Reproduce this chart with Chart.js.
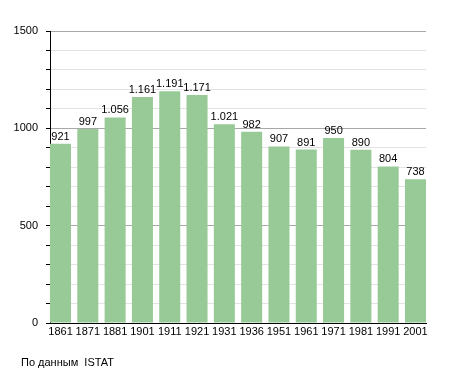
<!DOCTYPE html>
<html>
<head>
<meta charset="utf-8">
<script src="https://cdn.jsdelivr.net/npm/chart.js@4/dist/chart.umd.min.js"></script>
<style>
  html, body { margin: 0; padding: 0; background: #fff; }
  #wrap { position: relative; width: 455px; height: 373px; }
  #note {
    position: absolute; left: 21px; top: 356px;
    font: 11px "Liberation Sans", Arial, sans-serif; color: #000;
    white-space: pre;
  }
</style>
</head>
<body>
<div id="wrap">
  <canvas id="chartPopolazione" width="455" height="373"></canvas>
  <div id="note">По данным  ISTAT</div>
</div>
<script>
const anni = ['1861', '1871', '1881', '1901', '1911', '1921', '1931', '1936', '1951', '1961', '1971', '1981', '1991', '2001'];
const abitanti = [921, 997, 1056, 1161, 1191, 1171, 1021, 982, 907, 891, 950, 890, 804, 738];
const yTicks = [0, 500, 1000, 1500];

const FONT = '"Liberation Sans", Arial, sans-serif';
const numberFormatter = new Intl.NumberFormat('de-DE');

// value labels above each bar
const valueLabels = {
  id: 'valueLabels',
  afterDatasetsDraw(chart) {
    const { ctx } = chart;
    const meta = chart.getDatasetMeta(0);
    ctx.save();
    ctx.font = `11px ${FONT}`;
    ctx.fillStyle = '#000';
    ctx.textAlign = 'center';
    ctx.textBaseline = 'alphabetic';
    meta.data.forEach((bar, i) => {
      ctx.fillText(numberFormatter.format(abitanti[i]), bar.x, bar.y - 4);
    });
    ctx.restore();
  },
};

const canvas = document.getElementById('chartPopolazione');
new Chart(canvas.getContext('2d'), {
  type: 'bar',
  data: {
    datasets: [{
      data: abitanti.map((v, i) => ({ x: i, y: v })),
      backgroundColor: '#97ca97',
      borderWidth: 0,
      categoryPercentage: 1,
      barPercentage: 0.77,
    }],
  },
  options: {
    responsive: false,
    animation: false,
    layout: { padding: { left: 0, right: 29, top: 31, bottom: 0 } },
    scales: {
      x: {
        type: 'linear',
        min: -0.385,
        max: anni.length - 1 + 0.385,
        offset: false,
        grid: { display: false, drawTicks: false },
        border: { display: true, color: '#000', width: 1 },
        ticks: {
          stepSize: 1,
          includeBounds: false,
          autoSkip: false,
          maxRotation: 0,
          padding: 2,
          color: '#000',
          font: { family: FONT, size: 11 },
          callback: (value) => anni[value] ?? '',
        },
        afterFit(scale) { scale.height = 50; },
      },
      y: {
        min: 0,
        max: 1500,
        grid: {
          color: (c) => (c.tick && c.tick.value % 500 === 0 ? '#a8a8a8' : '#e3e3e3'),
          tickColor: '#000',
          tickLength: 4,
          drawTicks: true,
        },
        border: { display: true, color: '#000', width: 1 },
        ticks: {
          stepSize: 100,
          autoSkip: false,
          padding: 8,
          color: '#000',
          font: { family: FONT, size: 11 },
          callback: (value) => (yTicks.includes(value) ? String(value) : ''),
        },
        afterFit(scale) { scale.width = 50; },
      },
    },
    plugins: {
      legend: { display: false },
      tooltip: { enabled: false },
    },
  },
  plugins: [valueLabels],
});
</script>
</body>
</html>
